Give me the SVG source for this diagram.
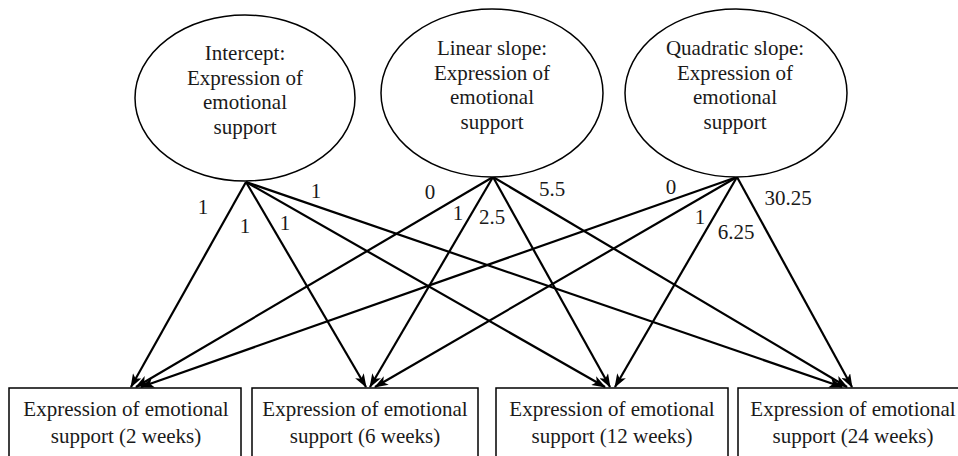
<svg xmlns="http://www.w3.org/2000/svg" width="958" height="456" viewBox="0 0 958 456">
<style>
  .bg{fill:#fff}
  .ell{fill:#fff;stroke:#000;stroke-width:1.5}
  .box{fill:#fff;stroke:#000;stroke-width:1.5}
  .t{font-family:"Liberation Serif","Times New Roman","DejaVu Serif",serif;font-size:21px;fill:#1a1a1a;text-anchor:middle}
  .lbl{font-family:"Liberation Serif","Times New Roman","DejaVu Serif",serif;font-size:21px;fill:#1a1a1a;text-anchor:middle}
  .edge{stroke:#000;stroke-width:2.2;fill:none;marker-end:url(#arr)}
</style>
<defs>
  <marker id="arr" viewBox="0 0 14 10" refX="13" refY="5" markerWidth="14" markerHeight="10" markerUnits="userSpaceOnUse" orient="auto">
    <path d="M0,0 L14,5 L0,10 L3.5,5 z" fill="#000"/>
  </marker>
</defs>
<rect class="bg" x="0" y="0" width="958" height="456"/>

<g id="connectors">
  <line class="edge" x1="246" y1="182" x2="131" y2="387"/>
  <line class="edge" x1="246" y1="182" x2="366" y2="387"/>
  <line class="edge" x1="246" y1="182" x2="605" y2="387"/>
  <line class="edge" x1="246" y1="182" x2="842" y2="387"/>
  <line class="edge" x1="493" y1="177" x2="136" y2="387"/>
  <line class="edge" x1="493" y1="177" x2="370" y2="387"/>
  <line class="edge" x1="493" y1="177" x2="610" y2="387"/>
  <line class="edge" x1="493" y1="177" x2="847" y2="387"/>
  <line class="edge" x1="737" y1="177" x2="141" y2="387"/>
  <line class="edge" x1="737" y1="177" x2="375" y2="387"/>
  <line class="edge" x1="737" y1="177" x2="615" y2="387"/>
  <line class="edge" x1="737" y1="177" x2="852" y2="387"/>
</g>

<g id="labels">
  <text class="lbl" x="203" y="214">1</text>
  <text class="lbl" x="245" y="233">1</text>
  <text class="lbl" x="285" y="230">1</text>
  <text class="lbl" x="316" y="198">1</text>
  <text class="lbl" x="430" y="199">0</text>
  <text class="lbl" x="458" y="220">1</text>
  <text class="lbl" x="492" y="224">2.5</text>
  <text class="lbl" x="552" y="196">5.5</text>
  <text class="lbl" x="671" y="194">0</text>
  <text class="lbl" x="700" y="224">1</text>
  <text class="lbl" x="736" y="239">6.25</text>
  <text class="lbl" x="788" y="205">30.25</text>
</g>

<g id="intercept">
  <ellipse class="ell" cx="245" cy="98" rx="110" ry="83"/>
  <text class="t" x="245" y="60">Intercept:</text>
  <text class="t" x="245" y="84.5">Expression of</text>
  <text class="t" x="245" y="109">emotional</text>
  <text class="t" x="245" y="133.5">support</text>
</g>
<g id="linear">
  <ellipse class="ell" cx="492" cy="93" rx="111" ry="84"/>
  <text class="t" x="492" y="55">Linear slope:</text>
  <text class="t" x="492" y="79.5">Expression of</text>
  <text class="t" x="492" y="104">emotional</text>
  <text class="t" x="492" y="128.5">support</text>
</g>
<g id="quadratic">
  <ellipse class="ell" cx="736" cy="93" rx="111" ry="84"/>
  <text class="t" x="735" y="55">Quadratic slope:</text>
  <text class="t" x="735" y="79.5">Expression of</text>
  <text class="t" x="735" y="104">emotional</text>
  <text class="t" x="735" y="128.5">support</text>
</g>

<g id="week2">
  <rect class="box" x="9" y="388" width="232" height="80"/>
  <text class="t" x="126" y="416">Expression of emotional</text>
  <text class="t" x="126" y="443">support (2 weeks)</text>
</g>
<g id="week6">
  <rect class="box" x="252" y="388" width="226" height="80"/>
  <text class="t" x="365" y="416">Expression of emotional</text>
  <text class="t" x="365" y="443">support (6 weeks)</text>
</g>
<g id="week12">
  <rect class="box" x="496" y="388" width="232" height="80"/>
  <text class="t" x="612" y="416">Expression of emotional</text>
  <text class="t" x="612" y="443">support (12 weeks)</text>
</g>
<g id="week24">
  <rect class="box" x="738" y="388" width="232" height="80"/>
  <text class="t" x="853" y="416">Expression of emotional</text>
  <text class="t" x="853" y="443">support (24 weeks)</text>
</g>
</svg>
